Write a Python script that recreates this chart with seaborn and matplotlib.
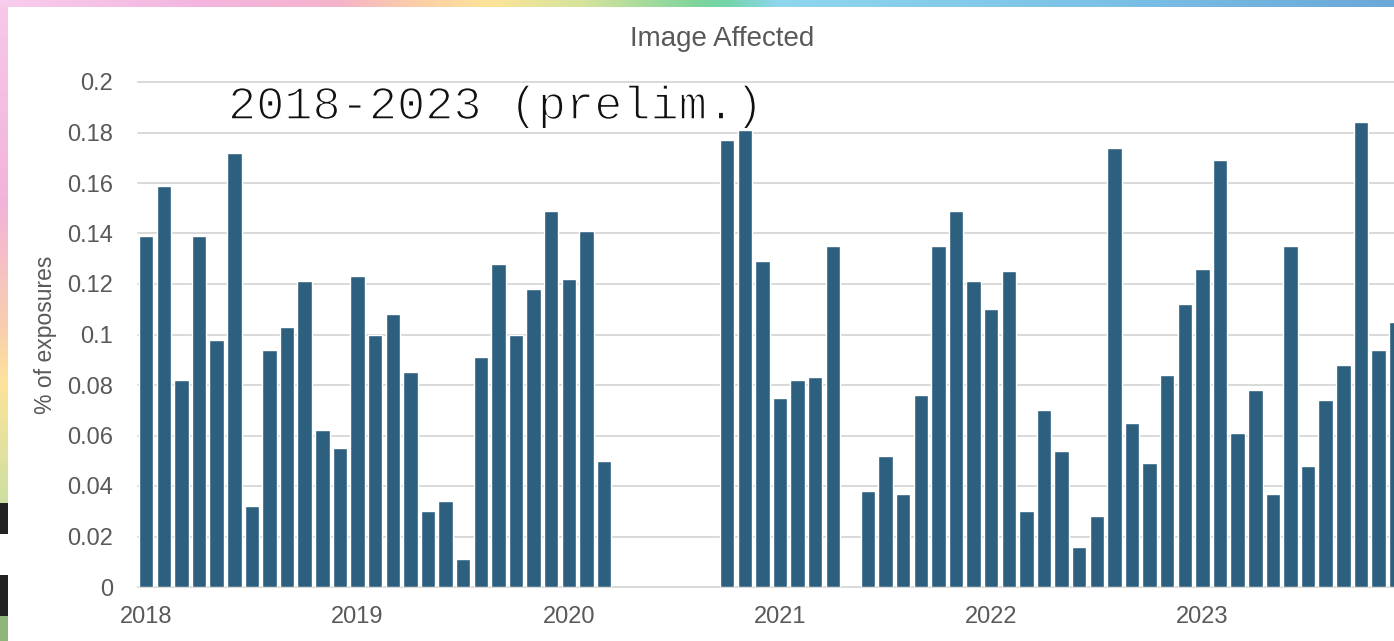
import numpy as np
import pandas as pd
import matplotlib
matplotlib.use("Agg")
import matplotlib.pyplot as plt
import matplotlib.patheffects as pe
import seaborn as sns
from matplotlib.colors import to_rgb

# Monthly share of exposures affected (None = no data for that month)
years = [2018, 2019, 2020, 2021, 2022, 2023]
share_2018 = [0.139, 0.159, 0.082, 0.139, 0.098, 0.172, 0.032, 0.094, 0.103, 0.121, 0.062, 0.055]
share_2019 = [0.123, 0.100, 0.108, 0.085, 0.030, 0.034, 0.011, 0.091, 0.128, 0.100, 0.118, 0.149]
share_2020 = [0.122, 0.141, 0.050, None, None, None, None, None, None, 0.177, 0.181, 0.129]
share_2021 = [0.075, 0.082, 0.083, 0.135, None, 0.038, 0.052, 0.037, 0.076, 0.135, 0.149, 0.121]
share_2022 = [0.110, 0.125, 0.030, 0.070, 0.054, 0.016, 0.028, 0.174, 0.065, 0.049, 0.084, 0.112]
share_2023 = [0.126, 0.169, 0.061, 0.078, 0.037, 0.135, 0.048, 0.074, 0.088, 0.184, 0.094, 0.105]

title = "Image Affected"
ylabel = "% of exposures"
note = "2018-2023 (prelim.)"
yticks = [0, 0.02, 0.04, 0.06, 0.08, 0.1, 0.12, 0.14, 0.16, 0.18, 0.2]
ytick_labels = ["0", "0.02", "0.04", "0.06", "0.08", "0.1", "0.12", "0.14", "0.16", "0.18", "0.2"]
year_labels = [str(y) for y in years]

series = [share_2018, share_2019, share_2020, share_2021, share_2022, share_2023]
rows = []
for yr, vals in zip(years, series):
    for m, v in enumerate(vals, 1):
        rows.append({"month": f"{yr}-{m:02d}", "share": v})
df = pd.DataFrame(rows)
df["share"] = df["share"].astype(float)
order = list(df["month"])

sns.set_theme(style="white")
plt.rcParams["font.family"] = ["Liberation Sans", "DejaVu Sans"]

W, H = 1394, 641
fig = plt.figure(figsize=(W / 100, H / 100), dpi=100, facecolor="white")

ax = fig.add_axes([138 / W, 1 - 587 / H, 1 - 138 / W, (587 - 82) / H])
sns.barplot(data=df.dropna(), x="month", y="share", order=order,
            color="#2d5f7e", saturation=1, width=0.82, errorbar=None,
            ax=ax, zorder=3)

ax.set_ylim(0, 0.2)
ax.set_xlim(-0.47, 70.88)
ax.set_yticks(yticks)
ax.set_yticklabels(ytick_labels)
ax.set_xticks([order.index(f"{y}-01") for y in years])
ax.set_xticklabels(year_labels)
ax.set_xlabel("")
ax.set_ylabel("")
for s in ax.spines.values():
    s.set_visible(False)
ax.yaxis.grid(True, color="#d9d9d9", linewidth=1.4)
ax.set_axisbelow(True)
for gl in ax.get_ygridlines():
    gl.set_clip_on(False)
ax.tick_params(axis="y", length=0, pad=18, labelsize=17, labelcolor="#595959")
ax.tick_params(axis="x", length=0, pad=14, labelsize=17, labelcolor="#595959")

fig.text(46 / W, 1 - 335 / H, ylabel, rotation=90, ha="center", va="center",
         fontsize=16.5, color="#595959")
fig.text(722 / W, 1 - 45.7 / H, title, ha="center", va="baseline",
         fontsize=20, color="#595959")
# Typewriter-style note; a white outline over the glyphs gives a lighter stroke
fig.text(228 / W, 1 - 119 / H, note, ha="left", va="baseline",
         fontsize=33.8, color="#111111", family="Liberation Mono",
         path_effects=[pe.Normal(), pe.Stroke(linewidth=1.1, foreground="white")])


def gradient(stops, n):
    pos = np.array([p for p, _ in stops])
    cols = np.array([to_rgb(c) for _, c in stops])
    t = np.linspace(0, 1, n)
    return np.stack([np.interp(t, pos, cols[:, k]) for k in range(3)], axis=-1)


# Decorative slide frame: gradient band along the top edge
top_band = fig.add_axes([0, 1 - 7 / H, 1, 7 / H])
top_stops = [(0.0, "#f8cdee"), (0.14, "#f3b6e0"), (0.24, "#f5b3cc"),
             (0.30, "#fbcfa6"), (0.35, "#fde399"), (0.42, "#d4e39c"),
             (0.50, "#7ed59c"), (0.52, "#74d4a8"), (0.56, "#8fd7ef"),
             (0.80, "#7cc0e6"), (1.0, "#6aa8d8")]
top_band.imshow(gradient(top_stops, W)[None, :, :], aspect="auto")
top_band.set_axis_off()

# Left band: gradient then dark and green blocks
left_band = fig.add_axes([0, 0, 8 / W, 1 - 7 / H])
n = H - 7
col = np.ones((n, 3))
grad_len = 503 - 7
col[:grad_len] = gradient([(0.0, "#f7c8ea"), (0.4, "#f2b3d9"), (0.65, "#f9cfae"),
                           (0.76, "#fde39a"), (1.0, "#cde0a0")], grad_len)
col[503 - 7:534 - 7] = to_rgb("#222222")
col[575 - 7:616 - 7] = to_rgb("#222222")
col[616 - 7:] = to_rgb("#8fb57a")
left_band.imshow(col[:, None, :], aspect="auto")
left_band.set_axis_off()

fig.savefig("out.png", dpi=100, facecolor="white")
